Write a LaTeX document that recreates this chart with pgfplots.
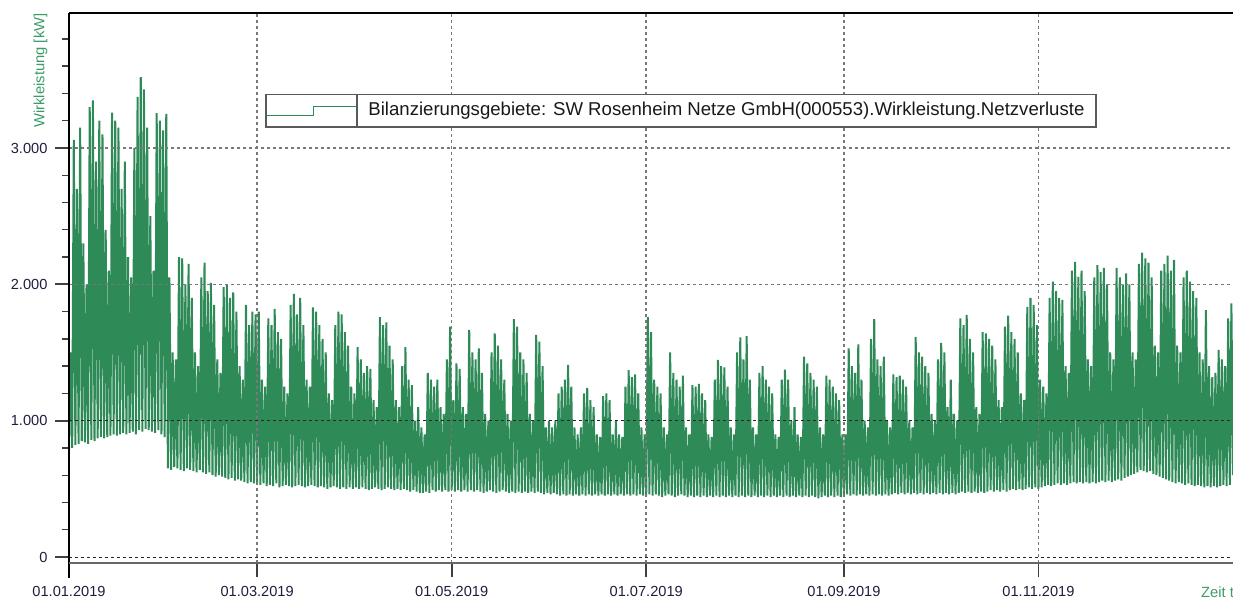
\documentclass[border=0pt]{standalone}
\usepackage{fontspec}
\setmainfont{Liberation Sans}
\usepackage{pgfplots}
\pgfplotsset{compat=1.18}
\usepackage{pgfplotstable}
\definecolor{linegreen}{RGB}{46,139,87}
\definecolor{labgreen}{RGB}{60,155,105}
\definecolor{ticknavy}{RGB}{30,30,60}
\definecolor{gridgrey}{RGB}{120,120,120}

% daily minimum / maximum of the loss power (kW), alternating lo, hi per day
\pgfplotstableread[row sep=\\]{
y\\
780\\1500\\800\\3060\\820\\2700\\830\\3150\\850\\2300\\840\\2000\\830\\3300\\
860\\3350\\850\\2900\\870\\3200\\880\\3100\\870\\2400\\880\\2100\\890\\3260\\
900\\3200\\890\\3150\\900\\2700\\910\\2900\\900\\2200\\910\\2050\\920\\3000\\
900\\3375\\930\\3520\\920\\3430\\940\\3150\\930\\2500\\920\\2100\\910\\3255\\
930\\3200\\900\\3130\\880\\3250\\
650\\2050\\640\\1500\\660\\1450\\650\\2200\\640\\2190\\630\\2000\\650\\2150\\
640\\1900\\630\\1500\\620\\1400\\640\\2050\\620\\2160\\610\\1950\\620\\2010\\
600\\1850\\590\\1450\\600\\1350\\590\\1980\\580\\2000\\570\\1900\\580\\1940\\
560\\1800\\570\\1400\\560\\1300\\550\\1850\\540\\1700\\550\\1800\\540\\1780\\
540\\1800\\530\\1300\\540\\1250\\520\\1750\\530\\1700\\520\\1820\\540\\1650\\
510\\1600\\520\\1250\\530\\1200\\520\\1850\\510\\1930\\520\\1780\\530\\1900\\
520\\1700\\510\\1300\\520\\1250\\530\\1830\\520\\1800\\510\\1700\\520\\1600\\
510\\1500\\500\\1200\\510\\1150\\520\\1700\\510\\1800\\500\\1780\\510\\1650\\
500\\1550\\510\\1250\\500\\1200\\510\\1540\\500\\1450\\510\\1350\\500\\1400\\
490\\1380\\500\\1150\\510\\1100\\500\\1760\\490\\1700\\500\\1720\\510\\1550\\
500\\1450\\490\\1150\\500\\1100\\490\\1400\\500\\1540\\490\\1300\\480\\1260\\
490\\1000\\480\\1100\\470\\950\\470\\900\\480\\1350\\470\\1300\\490\\1250\\
480\\1300\\490\\1100\\480\\1050\\490\\1450\\480\\1690\\490\\1150\\480\\1420\\
490\\1380\\480\\1100\\490\\1050\\480\\1665\\490\\1500\\480\\1450\\490\\1530\\
480\\1350\\470\\1050\\480\\1000\\490\\1500\\480\\1640\\470\\1550\\480\\1450\\
490\\1300\\480\\1050\\470\\1000\\480\\1745\\470\\1690\\480\\1500\\470\\1450\\
480\\1350\\470\\1050\\480\\1000\\470\\1630\\480\\1580\\470\\1400\\460\\950\\
470\\1000\\460\\950\\470\\1000\\460\\1200\\450\\1250\\460\\1300\\450\\1410\\
460\\1250\\450\\950\\460\\900\\450\\950\\460\\1200\\450\\1240\\460\\1150\\
450\\1100\\460\\900\\450\\880\\460\\1180\\450\\1200\\460\\1150\\450\\900\\
460\\1000\\450\\900\\460\\880\\450\\1250\\460\\1370\\450\\1320\\460\\1340\\
450\\1200\\460\\950\\450\\900\\450\\1760\\460\\1650\\450\\1300\\460\\1250\\
450\\1200\\440\\950\\450\\900\\460\\1500\\450\\1350\\440\\1300\\450\\1250\\
460\\1330\\450\\950\\440\\900\\450\\1260\\440\\1250\\450\\1270\\440\\1200\\
450\\1150\\440\\900\\450\\880\\440\\1300\\450\\1445\\440\\1400\\450\\1390\\
440\\1250\\450\\950\\440\\900\\450\\1500\\440\\1610\\450\\1450\\440\\1620\\
450\\1300\\440\\950\\450\\900\\440\\1350\\450\\1400\\440\\1300\\450\\1250\\
440\\1200\\450\\900\\440\\880\\450\\1300\\440\\1375\\450\\1300\\440\\1000\\
450\\1100\\440\\900\\450\\880\\440\\1470\\450\\1420\\440\\1350\\450\\1300\\
440\\1250\\430\\950\\440\\900\\450\\1330\\440\\1300\\450\\1250\\440\\1200\\
450\\1150\\440\\900\\450\\900\\460\\1530\\450\\1400\\460\\1350\\450\\1560\\
460\\1300\\450\\1000\\460\\950\\450\\1600\\460\\1745\\450\\1450\\460\\1400\\
450\\1470\\460\\1000\\450\\950\\460\\1340\\470\\1320\\460\\1330\\470\\1300\\
460\\1250\\470\\1000\\460\\950\\470\\1615\\460\\1500\\470\\1470\\460\\1400\\
470\\1350\\460\\1050\\470\\1000\\460\\1450\\470\\1570\\460\\1500\\470\\1100\\
460\\1300\\470\\1050\\460\\1000\\470\\1750\\480\\1700\\470\\1775\\480\\1600\\
470\\1500\\480\\1100\\470\\1050\\480\\1650\\470\\1640\\480\\1600\\490\\1550\\
480\\1450\\490\\1150\\480\\1100\\490\\1690\\480\\1770\\490\\1650\\500\\1600\\
490\\1500\\500\\1200\\490\\1150\\500\\1835\\510\\1900\\500\\1850\\510\\1700\\
500\\1300\\510\\1250\\520\\1200\\530\\1900\\520\\2020\\530\\1950\\540\\1900\\
530\\1885\\540\\1400\\530\\1350\\540\\2100\\550\\2165\\540\\2055\\550\\2100\\
540\\1950\\550\\1450\\540\\1400\\550\\2050\\540\\2140\\550\\2090\\560\\2120\\
550\\2000\\560\\1500\\550\\1450\\560\\2120\\570\\2050\\560\\2000\\580\\2080\\
590\\2000\\600\\1500\\610\\1450\\620\\2150\\640\\2233\\630\\2190\\620\\2160\\
630\\2050\\610\\1550\\600\\1500\\590\\2100\\580\\2150\\570\\2210\\560\\2100\\
550\\2180\\540\\1550\\550\\1500\\540\\2050\\530\\2100\\540\\2020\\530\\1950\\
520\\1900\\530\\1500\\520\\1450\\510\\1810\\520\\1400\\510\\1320\\520\\1350\\
510\\1520\\520\\1450\\530\\1400\\520\\1750\\530\\1860\\
600\\
}\lossdata

\begin{document}
\begin{tikzpicture}
\begin{axis}[
  name=ax, at={(34.5pt,19pt)}, anchor=south west,
  scale only axis, width=582pt, height=275pt,
  xmin=0, xmax=365, ymin=-44, ymax=3990,
  axis line style={draw=none},
  axis on top,
  tick align=outside,
  xtick pos=bottom, ytick pos=left,
  xtick={0,59,120,181,243,304},
  xticklabels={01.01.2019,01.03.2019,01.05.2019,01.07.2019,01.09.2019,01.11.2019},
  ytick={2000,3000}, yticklabels={2.000,3.000},
  extra y ticks={0,1000}, extra y tick labels={0,1.000},
  extra y tick style={major grid style={black!85, line width=0.5pt, dash pattern=on 1.5pt off 1.5pt}},
  minor ytick={200,400,600,800,1200,1400,1600,1800,2200,2400,2600,2800,3200,3400,3600,3800},
  xmajorgrids, ymajorgrids,
  major grid style={gridgrey, line width=0.8pt, dash pattern=on 1.5pt off 1.5pt},
  major tick length=7pt, minor tick length=3.5pt,
  major tick style={line width=0.9pt, black!75},
  minor tick style={line width=0.7pt, black!75},
  tick label style={font=\fontsize{7.3}{8}\selectfont, text=ticknavy, /pgf/number format/assume math mode=true},
  yticklabel style={inner sep=0pt, xshift=-3.6pt},
  xticklabel style={inner sep=0pt, yshift=-4.3pt},
]
\addplot[linegreen, line width=1pt, mark=none, line join=miter, miter limit=2] table[x expr=\coordindex*0.5, y=y] {\lossdata};
\end{axis}
\draw[black, line width=1pt] ([yshift=-7.5pt]ax.south west) -- (ax.north west);
\draw[black, line width=0.8pt] (ax.north west) -- (ax.north east);
\draw[black!60, line width=1pt] (ax.south west) -- (ax.south east);
% legend
\fill[black!55] (133.7pt,236.3pt) rectangle (548.7pt,252.55pt);
\draw[black!65, line width=0.7pt, fill=white] (133pt,237pt) rectangle (548pt,253.25pt);
\draw[black!65, line width=0.7pt] (178.5pt,237pt) -- (178.5pt,253.25pt);
\draw[linegreen, line width=0.5pt] (133pt,242.65pt) -- (156.5pt,242.65pt) -- (156.5pt,247.15pt) -- (178.5pt,247.15pt);
\node[anchor=base west, inner sep=0pt, font=\fontsize{9.3}{11}\selectfont, text=black!90] at (184pt,242.65pt) {Bilanzierungsgebiete: SW Rosenheim Netze GmbH(000553).Wirkleistung.Netzverluste};
% axis titles
\node[rotate=90, anchor=east, inner sep=0pt, text=labgreen, font=\fontsize{7.4}{8}\selectfont] at (20.25pt,294pt) {Wirkleistung [kW]};
\node[anchor=west, inner sep=0pt, text=labgreen, font=\fontsize{7.4}{8}\selectfont] at (600.3pt,4.5pt) {Zeit t};
\pgfresetboundingbox
\path[use as bounding box] (0,0) rectangle (616.5pt,300.5pt);
\end{tikzpicture}
\end{document}
